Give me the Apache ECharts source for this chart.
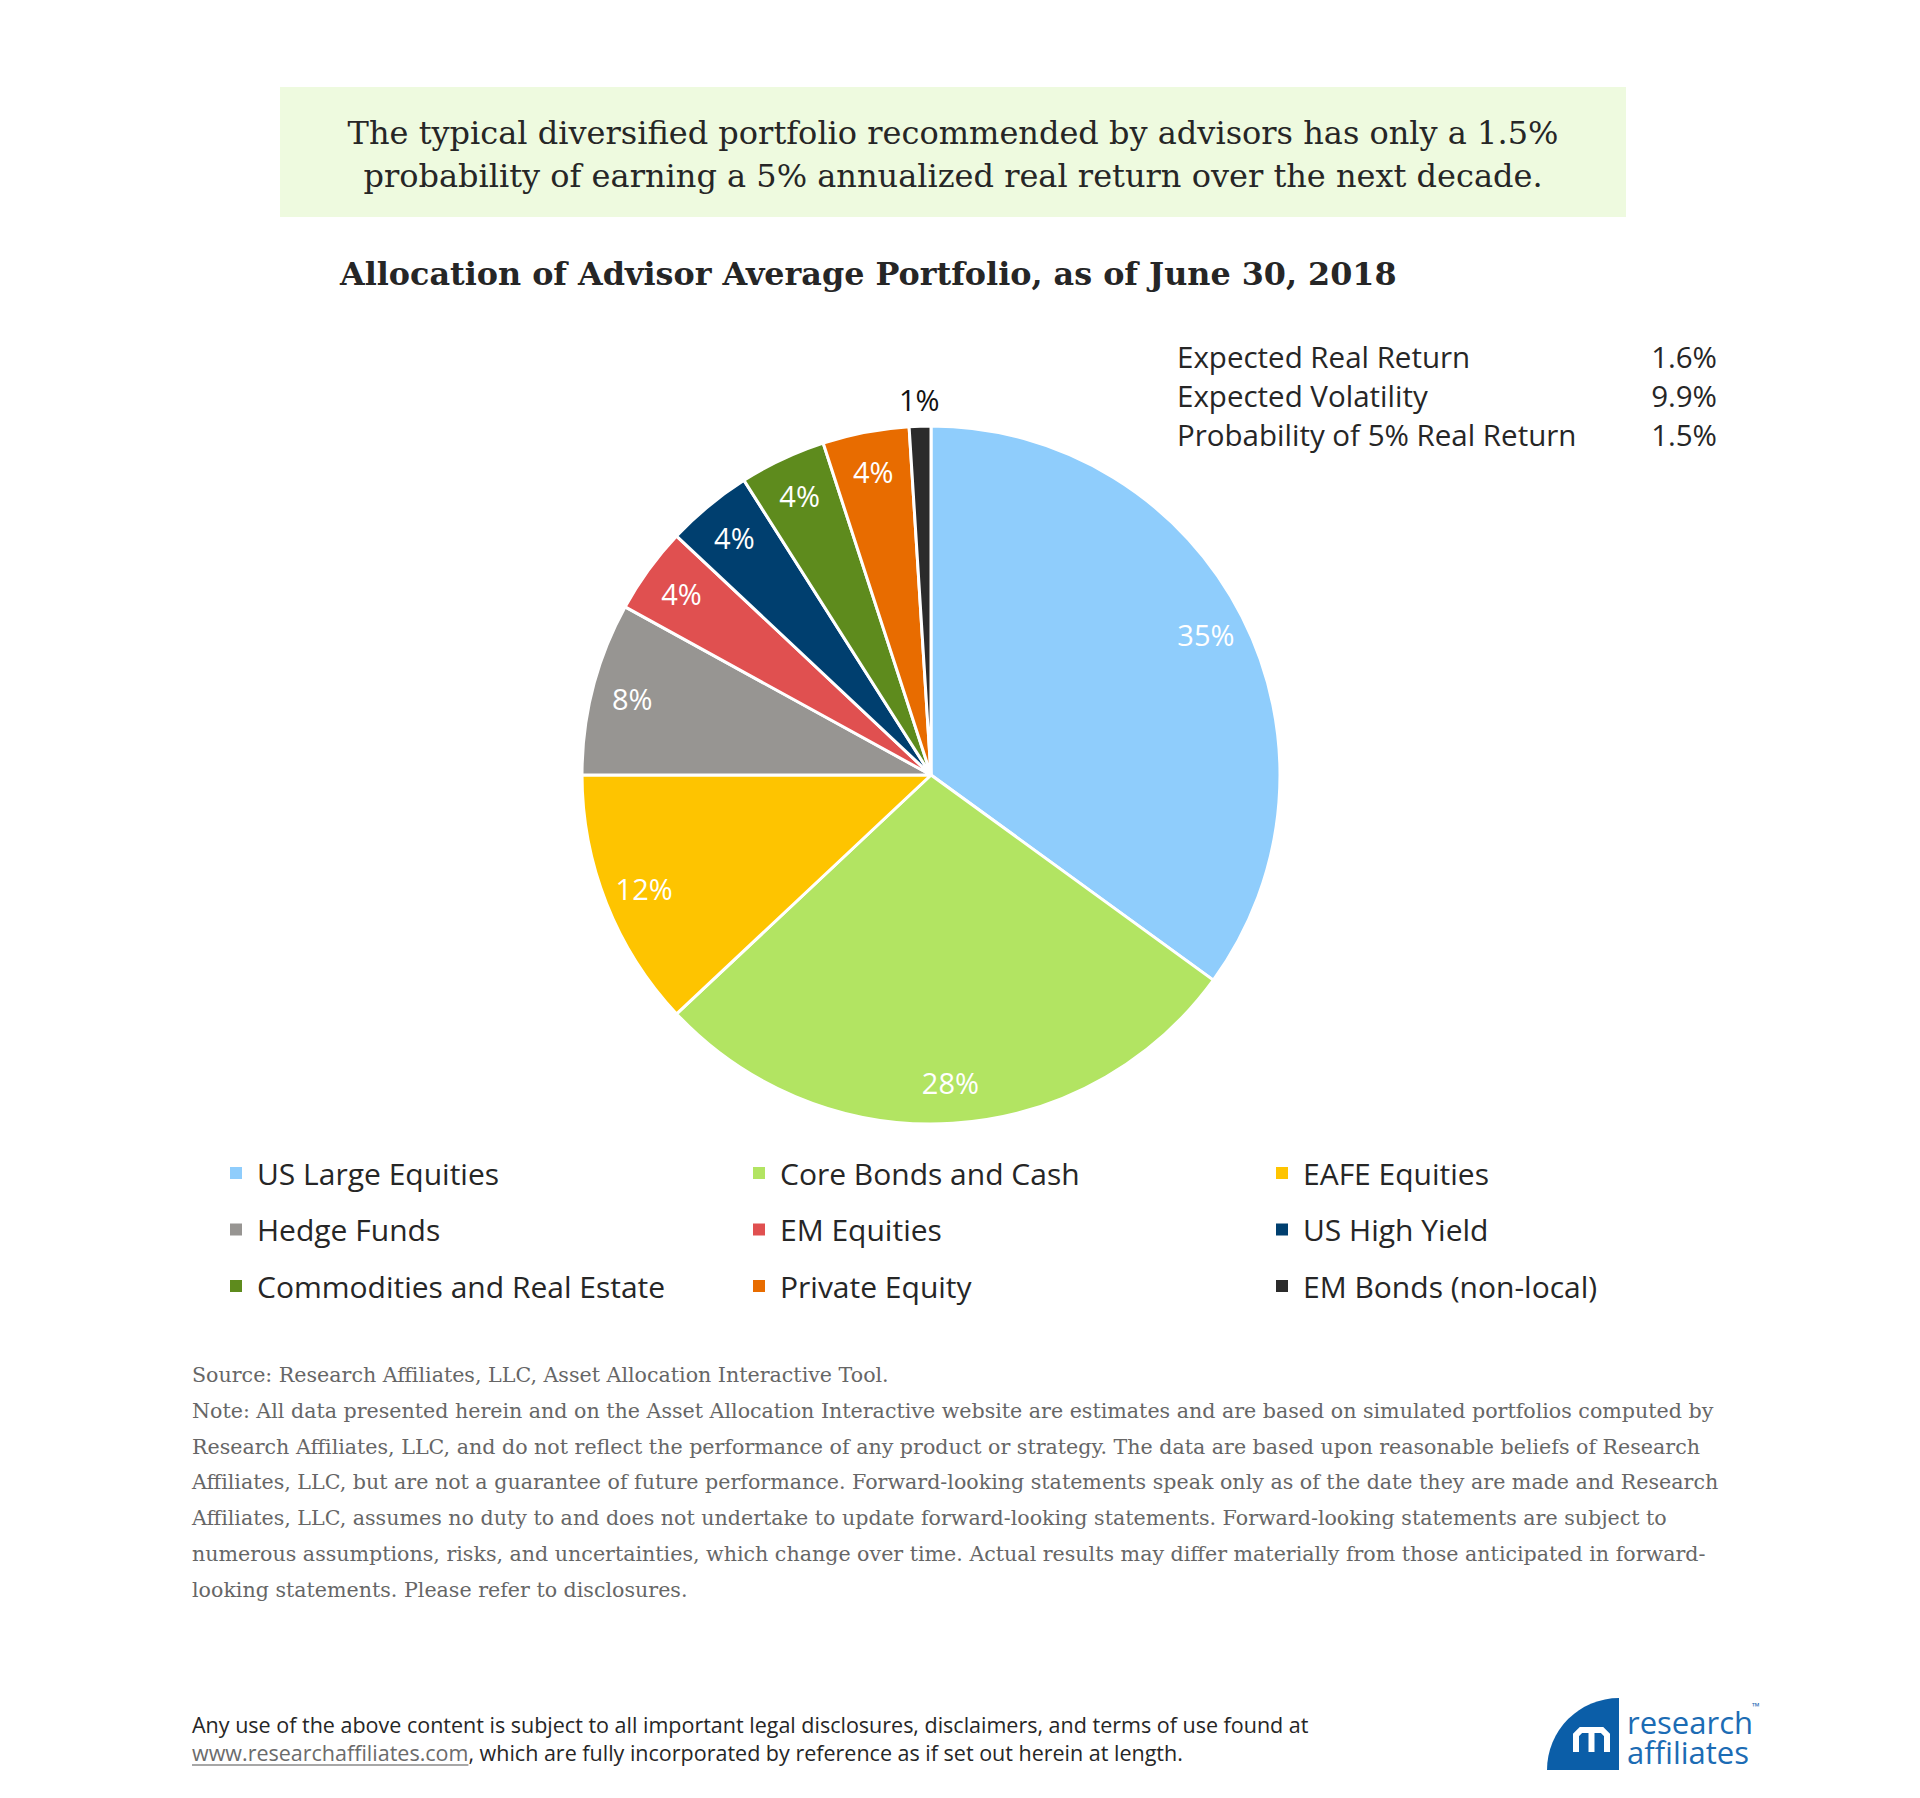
<!DOCTYPE html>
<html><head><meta charset="utf-8">
<script src="https://cdn.jsdelivr.net/npm/echarts@6/dist/echarts.min.js"></script>
<style>html,body{margin:0;padding:0;background:#fff}#c{width:1920px;height:1798px}</style>
</head><body><div id="c"></div>
<script>
const categories = ['US Large Equities','Core Bonds and Cash','EAFE Equities','Hedge Funds','EM Equities','US High Yield','Commodities and Real Estate','Private Equity','EM Bonds (non-local)'];
const values = [35, 28, 12, 8, 4, 4, 4, 4, 1];
const colors = ['#8fcdfc','#b2e462','#fec400','#979592','#e05050','#003f6f','#5e8b1d','#e86c00','#2b2b2b'];
const statNames = ['Expected Real Return','Expected Volatility','Probability of 5% Real Return'];
const statValues = ['1.6%','9.9%','1.5%'];
const headline = ['The typical diversified portfolio recommended by advisors has only a 1.5%','probability of earning a 5% annualized real return over the next decade.'];
const chartTitle = 'Allocation of Advisor Average Portfolio, as of June 30, 2018';
const notes = [
 'Source: Research Affiliates, LLC, Asset Allocation Interactive Tool.',
 'Note: All data presented herein and on the Asset Allocation Interactive website are estimates and are based on simulated portfolios computed by',
 'Research Affiliates, LLC, and do not reflect the performance of any product or strategy. The data are based upon reasonable beliefs of Research',
 'Affiliates, LLC, but are not a guarantee of future performance. Forward-looking statements speak only as of the date they are made and Research',
 'Affiliates, LLC, assumes no duty to and does not undertake to update forward-looking statements. Forward-looking statements are subject to',
 'numerous assumptions, risks, and uncertainties, which change over time. Actual results may differ materially from those anticipated in forward-',
 'looking statements. Please refer to disclosures.'
];
const discl1 = 'Any use of the above content is subject to all important legal disclosures, disclaimers, and terms of use found at';
const link = 'www.researchaffiliates.com';
const discl2 = ', which are fully incorporated by reference as if set out herein at length.';

const SANS = '"Open Sans", "Noto Sans", sans-serif';
const SERIF = '"DejaVu Serif", "Liberation Serif", serif';
const CX = 931, CY = 775, R = 349;

function measure(text, font){const c=document.createElement('canvas').getContext('2d');c.font=font;return c.measureText(text).width;}

const graphic = [];
graphic.push({type:'rect', shape:{x:280,y:87,width:1346,height:130}, style:{fill:'#eefadf'}, silent:true});
headline.forEach((t,i)=>graphic.push({type:'text', x:953, y:133+i*43, style:{text:t, font:'32px '+SERIF, fill:'#262626', align:'center', verticalAlign:'middle'}}));
statNames.forEach((t,i)=>{
  graphic.push({type:'text', x:1177, y:356+i*39, style:{text:t, font:'29.5px '+SANS, fill:'#262626', align:'left', verticalAlign:'middle'}});
  graphic.push({type:'text', x:1717, y:356+i*39, style:{text:statValues[i], font:'29.5px '+SANS, fill:'#262626', align:'right', verticalAlign:'middle'}});
});
notes.forEach((t,i)=>graphic.push({type:'text', x:192, y:1375+i*35.8, style:{text:t, font:'20.6px '+SERIF, fill:'#666666', align:'left', verticalAlign:'middle', lineHeight:24}}));
const dFont = '21.5px '+SANS;
graphic.push({type:'text', x:192, y:1724, style:{text:discl1, font:dFont, fill:'#262626', align:'left', verticalAlign:'middle'}});
const lw = measure(link, dFont);
graphic.push({type:'text', x:192, y:1752, style:{text:link, font:dFont, fill:'#6b6b6b', align:'left', verticalAlign:'middle'}});
graphic.push({type:'line', shape:{x1:192,y1:1765,x2:192+lw,y2:1765}, style:{stroke:'#8a8a8a', lineWidth:1.5}});
graphic.push({type:'text', x:192+lw, y:1752, style:{text:discl2, font:dFont, fill:'#262626', align:'left', verticalAlign:'middle'}});
// logo
graphic.push({type:'sector', shape:{cx:1619, cy:1770, r:72, r0:0, startAngle:Math.PI, endAngle:Math.PI*1.5}, style:{fill:'#0b5ea8'}});
graphic.push({type:'polyline', shape:{points:[[1576,1752],[1576,1735],[1581,1730],[1602,1730],[1607,1735],[1607,1752]]}, style:{fill:'none', stroke:'#ffffff', lineWidth:6}});
graphic.push({type:'line', shape:{x1:1591.5,y1:1731,x2:1591.5,y2:1752}, style:{stroke:'#ffffff', lineWidth:6}});
graphic.push({type:'circle', shape:{cx:1584, cy:1738, r:3}, style:{fill:'#0b5ea8'}});
graphic.push({type:'circle', shape:{cx:1599, cy:1738, r:3}, style:{fill:'#0b5ea8'}});
graphic.push({type:'text', x:1627, y:1722, style:{text:'research', font:'31px '+SANS, fill:'#1c6cb4', align:'left', verticalAlign:'middle'}});
graphic.push({type:'text', x:1627, y:1752, style:{text:'affiliates', font:'31px '+SANS, fill:'#1c6cb4', align:'left', verticalAlign:'middle'}});
graphic.push({type:'text', x:1752, y:1706, style:{text:'™', font:'10px '+SANS, fill:'#1c6cb4', align:'left', verticalAlign:'middle'}});

const legends = [0,1,2].map(j=>({
  orient:'vertical', left: 228 + j*523, top: 1155, padding:0, itemWidth:14, itemHeight:14, itemGap:20.5, icon:'rect', selectedMode:false,
  data: categories.filter((_,i)=>i%3===j),
  textStyle:{fontFamily:SANS, fontSize:30, color:'#262626', lineHeight:36, padding:[0,0,0,9]}
}));

const chart = echarts.init(document.getElementById('c'), null, {renderer:'svg', width:1920, height:1798});
chart.setOption({
  backgroundColor:'#ffffff',
  animation:false,
  title:{text:chartTitle, left:340, top:251, padding:0, textStyle:{fontFamily:SERIF, fontWeight:'bold', fontSize:31.8, color:'#262626', lineHeight:44}},
  legend: legends,
  graphic: graphic,
  series:[
    {type:'pie', center:[CX,CY], radius:[0,R], startAngle:90, clockwise:true, silent:true,
     label:{show:false}, labelLine:{show:false},
     itemStyle:{borderColor:'#ffffff', borderWidth:3},
     data: categories.map((n,i)=>({name:n, value:values[i], itemStyle:{color:colors[i]}}))},
    {type:'pie', center:[CX,CY], radius:[262,R], startAngle:90, clockwise:true, silent:true, legendHoverLink:false,
     itemStyle:{color:'rgba(0,0,0,0)', borderWidth:0},
     label:{position:'inside', color:'#ffffff', fontFamily:SANS, fontSize:29, formatter:p=>p.value+'%'},
     labelLine:{show:false},
     data: categories.map((n,i)=>({name:n, value:values[i], label:{show: values[i]>=2}}))},
    {type:'pie', center:[CX,CY], radius:[R,397], startAngle:90, clockwise:true, silent:true, legendHoverLink:false,
     itemStyle:{color:'rgba(0,0,0,0)', borderWidth:0},
     label:{position:'inside', color:'#111111', fontFamily:SANS, fontSize:29, formatter:p=>p.value+'%'},
     labelLine:{show:false},
     data: categories.map((n,i)=>({name:n, value:values[i], label:{show: values[i]<2}}))}
  ]
});
</script></body></html>
